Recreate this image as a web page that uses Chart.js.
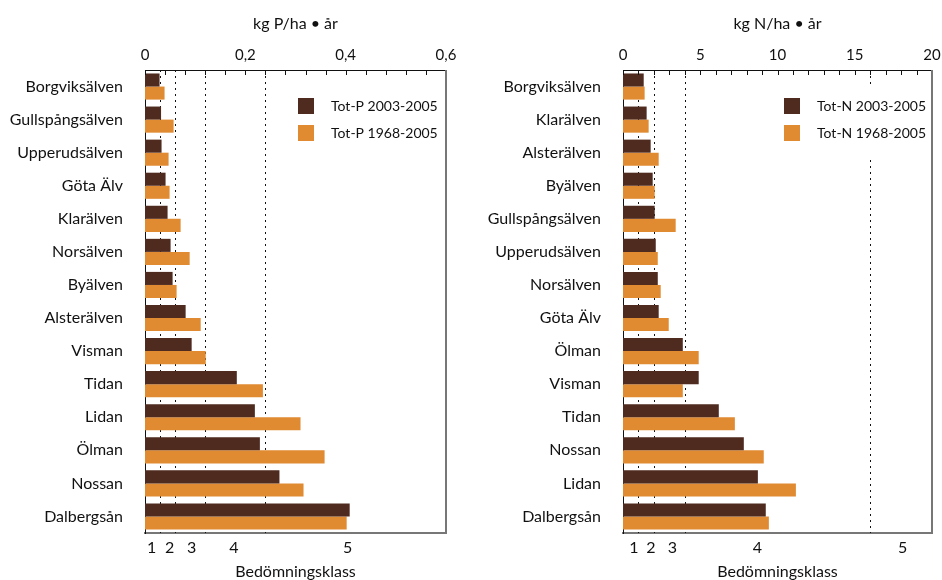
<!DOCTYPE html>
<html>
<head>
<meta charset="utf-8">
<script src="https://cdn.jsdelivr.net/npm/chart.js@4"></script>
<style>
  body { margin: 0; background: #fff; }
  #wrap { position: relative; width: 942px; height: 580px; }
  canvas { position: absolute; top: 0; }
</style>
</head>
<body>
<div id="wrap">
  <canvas id="chartP" width="471" height="580" style="left:0"></canvas>
  <canvas id="chartN" width="471" height="580" style="left:471px"></canvas>
</div>
<script>
// phosphorus
const riversP = ['Borgviksälven', 'Gullspångsälven', 'Upperudsälven', 'Göta Älv', 'Klarälven', 'Norsälven', 'Byälven',
  'Alsterälven', 'Visman', 'Tidan', 'Lidan', 'Ölman', 'Nossan', 'Dalbergsån'];
const totP2003 = [0.029, 0.032, 0.033, 0.041, 0.045, 0.051, 0.055, 0.081, 0.093, 0.183, 0.219, 0.229, 0.268, 0.408];
const totP1968 = [0.039, 0.057, 0.047, 0.049, 0.071, 0.089, 0.063, 0.111, 0.121, 0.235, 0.310, 0.358, 0.316, 0.402];
const pTicks = [0, 0.2, 0.4, 0.6];
const pTickLabels = ['0', '0,2', '0,4', '0,6'];
const pLimits = [0.03, 0.06, 0.12, 0.24];
const pClassPos = [0.013, 0.049, 0.093, 0.177, 0.404];

// nitrogen
const riversN = ['Borgviksälven', 'Klarälven', 'Alsterälven', 'Byälven', 'Gullspångsälven', 'Upperudsälven', 'Norsälven',
  'Göta Älv', 'Ölman', 'Visman', 'Tidan', 'Nossan', 'Lidan', 'Dalbergsån'];
const totN2003 = [1.34, 1.53, 1.79, 1.92, 2.05, 2.12, 2.25, 2.31, 3.87, 4.90, 6.20, 7.82, 8.73, 9.24];
const totN1968 = [1.40, 1.66, 2.31, 2.05, 3.41, 2.25, 2.44, 2.96, 4.90, 3.87, 7.24, 9.11, 11.19, 9.44];
const nTicks = [0, 5, 10, 15, 20];
const nTickLabels = ['0', '5', '10', '15', '20'];
const nLimits = [1, 2, 4, 16];
const nClassPos = [0.71, 1.8, 3.2, 8.7, 18.1];

const classLabels = ['1', '2', '3', '4', '5'];

Chart.defaults.font.family = 'Lato';
Chart.defaults.color = '#111';

const dark = '#4e2a1f';
const orange = '#e08a32';

// dotted class limits behind the bars, inward ticks, frame and legend
const extras = {
  id: 'extras',
  beforeDatasetsDraw(chart, args, opts) {
    const {ctx, chartArea: a, scales: {x}} = chart;
    ctx.save();
    ctx.strokeStyle = '#111';
    ctx.lineWidth = 1;
    ctx.setLineDash([2, 4]);
    opts.limits.forEach(v => {
      const px = Math.round(x.getPixelForValue(v)) + 0.5;
      ctx.beginPath();
      ctx.moveTo(px, a.top);
      ctx.lineTo(px, a.bottom);
      ctx.stroke();
    });
    ctx.restore();
  },
  afterDraw(chart, args, opts) {
    const {ctx, chartArea: a, scales: {x}} = chart;
    ctx.save();
    ctx.strokeStyle = '#111';
    ctx.lineWidth = 1;
    x.ticks.forEach(t => {
      const px = Math.round(x.getPixelForValue(t.value)) + 0.5;
      ctx.beginPath();
      ctx.moveTo(px, a.top);
      ctx.lineTo(px, a.top + 5);
      ctx.stroke();
    });
    ctx.strokeStyle = '#777';
    ctx.lineWidth = 2;
    ctx.beginPath();
    ctx.moveTo(a.right, a.top);
    ctx.lineTo(a.right, a.bottom);
    ctx.stroke();

    // legend on a white patch
    const lx = a.right - 148;
    ctx.fillStyle = '#fff';
    ctx.fillRect(lx - 6, a.top + 18, a.right - lx + 4, 69);
    chart.data.datasets.forEach((ds, i) => {
      const ly = a.top + 28 + i * 27;
      ctx.fillStyle = ds.backgroundColor;
      ctx.fillRect(lx, ly, 16, 16);
      ctx.fillStyle = '#111';
      ctx.font = '14px Lato';
      ctx.textBaseline = 'middle';
      ctx.fillText(ds.label, lx + 33, ly + 8);
    });
    ctx.restore();
  }
};

function makeChart(id, labels, d1, d2, names, unit, max, step, ticks, tickLabels, limits, classPos, yWidth, padRight) {
  return new Chart(document.getElementById(id), {
    type: 'bar',
    data: {
      labels: labels,
      datasets: [
        { label: names[0], data: d1, backgroundColor: dark },
        { label: names[1], data: d2, backgroundColor: orange }
      ]
    },
    options: {
      indexAxis: 'y',
      responsive: false,
      animation: false,
      devicePixelRatio: 1,
      layout: { padding: { left: 0, right: padRight, top: 0, bottom: 0 } },
      datasets: { bar: { categoryPercentage: 0.79, barPercentage: 1 } },
      scales: {
        x: {
          position: 'top',
          min: 0,
          max: max,
          grid: { display: false },
          border: { display: true, color: '#111', width: 1 },
          ticks: {
            stepSize: step,
            autoSkip: false,
            maxRotation: 0,
            padding: -2,
            font: { size: 15 },
            callback: v => {
              const i = ticks.findIndex(t => Math.abs(t - v) < step / 100);
              return i >= 0 ? tickLabels[i] : '';
            }
          },
          title: { display: true, text: unit, font: { size: 16 }, padding: { top: 14, bottom: 0 } },
          afterFit(s) { s.height = 70; }
        },
        x2: {
          position: 'bottom',
          min: 0,
          max: max,
          grid: { display: false },
          border: { display: true, color: '#777', width: 2 },
          afterBuildTicks(s) { s.ticks = classPos.map(v => ({ value: v })); },
          ticks: {
            autoSkip: false,
            maxRotation: 0,
            padding: -3,
            font: { size: 16 },
            callback: (v, i) => classLabels[i]
          },
          title: { display: true, text: 'Bedömningsklass', font: { size: 16, lineHeight: 1 }, padding: { top: 0, bottom: 0 } },
          afterFit(s) { s.height = 47; }
        },
        y: {
          grid: { display: false },
          border: { display: true, color: '#111', width: 1 },
          ticks: { padding: 14, font: { size: 16 } },
          afterFit(s) { s.width = yWidth; }
        }
      },
      plugins: {
        legend: { display: false },
        tooltip: { enabled: false },
        extras: { limits: limits }
      }
    },
    plugins: [extras]
  });
}

makeChart('chartP', riversP, totP2003, totP1968, ['Tot-P 2003-2005', 'Tot-P 1968-2005'], 'kg P/ha • år',
  0.6, 0.04, pTicks, pTickLabels, pLimits, pClassPos, 145, 25);
makeChart('chartN', riversN, totN2003, totN1968, ['Tot-N 2003-2005', 'Tot-N 1968-2005'], 'kg N/ha • år',
  20, 1, nTicks, nTickLabels, nLimits, nClassPos, 152, 10);
</script>
</body>
</html>
